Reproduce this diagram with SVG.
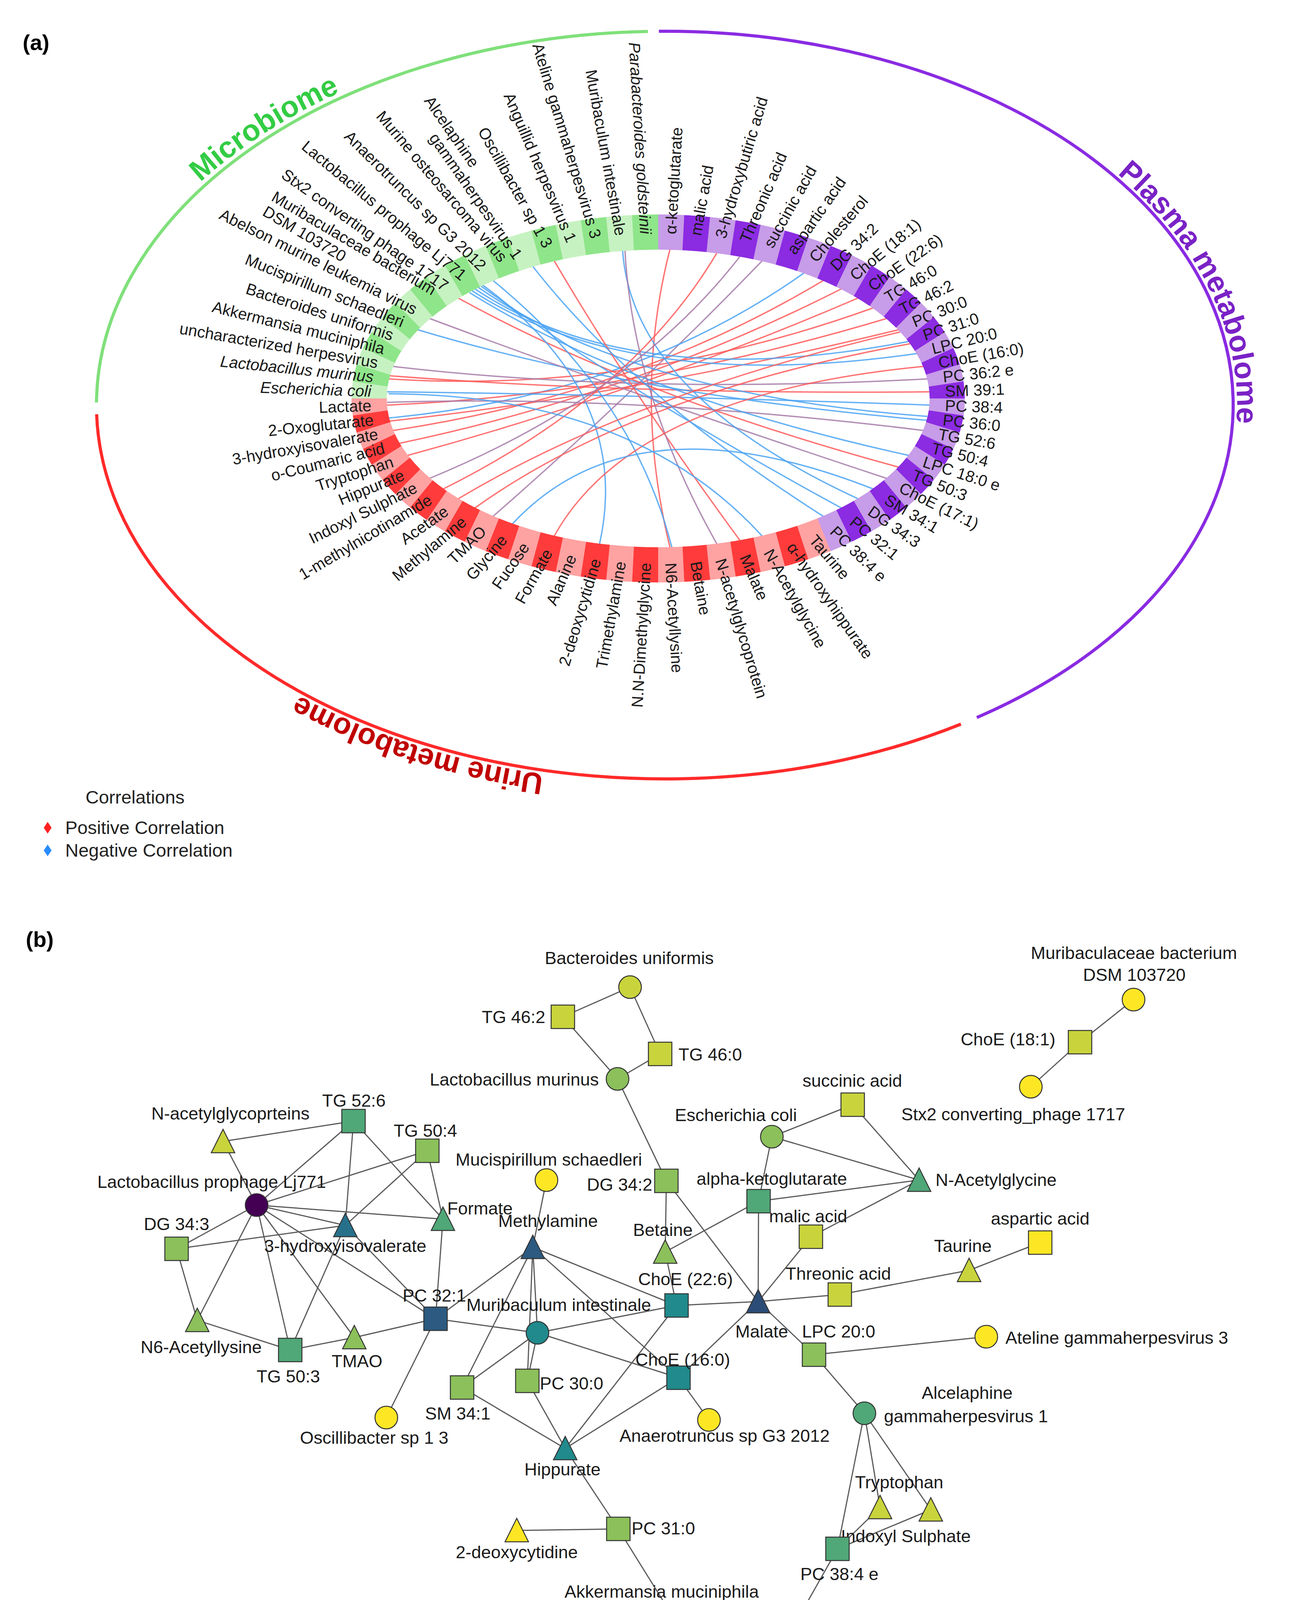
<svg xmlns="http://www.w3.org/2000/svg" width="3300" height="4779" viewBox="0 0 3300 4779">
<defs>
<style>
text{font-family:"Liberation Sans",Arial,sans-serif;}
.lab{font-size:41px;fill:#1a1a1a}
.L{text-anchor:end}
.it{font-style:italic}
.seg{fill:none;stroke-width:90}
.pl{stroke:#c79ce8}.pd{stroke:#8b2be2}
.ul{stroke:#ffa2a2}.ud{stroke:#ff3b3b}
.gl{stroke:#c6f2c1}.gd{stroke:#8fe58a}
.ch{fill:none;stroke-width:3.5;stroke-opacity:.85}
.pos{stroke:#ff5a5a}.neg{stroke:#4aa3f3}.mix{stroke:#a67aa8}
.sec{font-size:76px;font-weight:bold}
.nl{font-size:45px;fill:#1a1a1a}
.m{text-anchor:middle}.e{text-anchor:end}
.ed{stroke:#5a5a5a;stroke-width:3;fill:none}
.n{stroke:#333;stroke-width:2.5}
.y1{fill:#fde725}.y2{fill:#c9d43c}.g3{fill:#8bc05a}.g4{fill:#50a777}
.t5{fill:#208a8c}.t6{fill:#1f6e85}.b6{fill:#26708a}.b7{fill:#2c5a80}.b8{fill:#2b4c76}.pp{fill:#440154}
.lg{font-size:47px;fill:#222}
</style>
<linearGradient id="vir" x1="0" y1="0" x2="1" y2="0">
<stop offset="0" stop-color="#fde725"/>
<stop offset="0.25" stop-color="#5ec962"/>
<stop offset="0.5" stop-color="#21918c"/>
<stop offset="0.75" stop-color="#3b528b"/>
<stop offset="1" stop-color="#440154"/>
</linearGradient>
<path id="tpMicro" d="M484.1,494 A1469,971 0 0 1 1199.6,124.6" fill="none"/>
<path id="tpPlasma" d="M2856.4,441.7 A1465,967 0 0 1 3152.7,1171.6" fill="none"/>
<path id="tpUrine" d="M1422.5,1986.3 A1465,967 0 0 1 666.1,1720.8" fill="none"/>
</defs>
<rect width="3300" height="4779" fill="#fff"/>

<!-- (a) -->
<text x="58" y="128" font-size="56" font-weight="bold">(a)</text>

<g id="outer-arcs" fill="none" stroke-width="8">
<path d="M247,1030.3 A1455,957 0 0 1 1658.8,80.4" stroke="#7fe07a"/>
<path d="M1686.8,80.05 A1455,957 0 0 1 2500.8,1836.9" stroke="#8a2be2"/>
<path d="M2460.1,1853.8 A1455,957 0 0 1 247.4,1060.4" stroke="#ff2a2a"/>
</g>
<g id="section-labels">
<text class="sec" fill="#33cc44"><textPath href="#tpMicro" startOffset="40">Microbiome</textPath></text>
<text class="sec" fill="#7a22c6"><textPath href="#tpPlasma" startOffset="5">Plasma metabolome</textPath></text>
<text class="sec" fill="#c00000"><textPath href="#tpUrine" startOffset="30">Urine metabolome</textPath></text>
</g>

<g id="ring-base" class="seg">
<path class="pl" d="M1685,594A740,426 0 0 1 2109.5,1369"/>
<path class="ul" d="M2109.5,1369A740,426 0 0 1 945,1020"/>
<path class="gl" d="M945,1020A740,426 0 0 1 1685,594"/>
</g>

<g id="chords">
<path class="ch pos" d="M1715,639Q1620,1010 1715,1401"/>
<path class="ch mix" d="M1951,668Q1620,1010 1262,1322"/>
<path class="ch neg" d="M2058,699Q1620,1010 996,1070"/>
<path class="ch pos" d="M2108,718Q1620,1010 1006,1102"/>
<path class="ch pos" d="M2155,739Q1620,1010 1022,1135"/>
<path class="ch pos" d="M2197,763Q1620,1010 1043,1166"/>
<path class="ch pos" d="M2236,788Q1620,1010 996,970"/>
<path class="ch pos" d="M2271,815Q1620,1010 991,1037"/>
<path class="ch pos" d="M2301,844Q1620,1010 998,1078"/>
<path class="ch neg" d="M2327,874Q1620,1010 1215,739"/>
<path class="ch neg" d="M2348,905Q1620,1010 1208,744"/>
<path class="ch mix" d="M2374,970Q1620,1010 1006,938"/>
<path class="ch pos" d="M2379,1003Q1620,1010 998,962"/>
<path class="ch neg" d="M2379,1037Q1620,1010 991,1003"/>
<path class="ch neg" d="M2374,1066Q1620,1010 1222,734"/>
<path class="ch neg" d="M2374,1076Q1620,1010 1069,844"/>
<path class="ch mix" d="M2364,1102Q1620,1010 991,1030"/>
<path class="ch neg" d="M2327,1166Q1620,1010 1202,749"/>
<path class="ch pos" d="M2301,1196Q1620,1010 1173,763"/>
<path class="ch mix" d="M2271,1225Q1620,1010 1099,815"/>
<path class="ch neg" d="M2197,1277Q1620,1010 1594,642"/>
<path class="ch neg" d="M2155,1301Q1620,1010 1228,730"/>
<path class="ch pos" d="M1894,1383Q1620,1010 1419,668"/>
<path class="ch mix" d="M1835,1392Q1620,1010 1600,641"/>
<path class="ch neg" d="M1720,1401Q1620,1010 1262,718"/>
<path class="ch neg" d="M1535,1392Q1620,1010 1232,727"/>
<path class="ch pos" d="M1215,1301Q1620,1010 2330,880"/>
<path class="ch neg" d="M2108,1322Q1620,1010 1364,682"/>
<path class="ch pos" d="M1835,648Q1620,1010 1134,1252"/>
<path class="ch mix" d="M1894,657Q1620,1010 1099,1225"/>
<path class="ch pos" d="M2364,938Q1620,1010 1419,1372"/>
<path class="ch neg" d="M2236,1252Q1620,1010 1312,1341"/>
<path class="ch neg" d="M1951,1372Q1620,1010 995,1008"/>
<path class="ch pos" d="M1173,1277Q1620,1010 2304,850"/>
</g>

<g id="ring">
<g id="s0"><path class="seg pl" d="M1685,594A740,426 0 0 1 1749.5,595.6"/><text class="lab" dy="14" transform="translate(1685 1020) scale(1 .5728) rotate(272.5) translate(735 0) rotate(-272.5) scale(1 1.7458) rotate(-86.6)">α-ketoglutarate</text></g>
<g id="s1"><path class="seg pd" d="M1749.5,595.6A740,426 0 0 1 1813.5,600.5"/><text class="lab" dy="14" transform="translate(1685 1020) scale(1 .5728) rotate(277.5) translate(735 0) rotate(-277.5) scale(1 1.7458) rotate(-79.8)">malic acid</text></g>
<g id="s2"><path class="seg pl" d="M1813.5,600.5A740,426 0 0 1 1876.5,608.5"/><text class="lab" dy="14" transform="translate(1685 1020) scale(1 .5728) rotate(282.5) translate(735 0) rotate(-282.5) scale(1 1.7458) rotate(-73.2)">3-hydroxybutiric acid</text></g>
<g id="s3"><path class="seg pd" d="M1876.5,608.5A740,426 0 0 1 1938.1,619.7"/><text class="lab" dy="14" transform="translate(1685 1020) scale(1 .5728) rotate(287.5) translate(735 0) rotate(-287.5) scale(1 1.7458) rotate(-66.8)">Threonic acid</text></g>
<g id="s4"><path class="seg pl" d="M1938.1,619.7A740,426 0 0 1 1997.7,633.9"/><text class="lab" dy="14" transform="translate(1685 1020) scale(1 .5728) rotate(292.5) translate(735 0) rotate(-292.5) scale(1 1.7458) rotate(-60.8)">succinic acid</text></g>
<g id="s5"><path class="seg pd" d="M1997.7,633.9A740,426 0 0 1 2055,651.1"/><text class="lab" dy="14" transform="translate(1685 1020) scale(1 .5728) rotate(297.5) translate(735 0) rotate(-297.5) scale(1 1.7458) rotate(-55.1)">aspartic acid</text></g>
<g id="s6"><path class="seg pl" d="M2055,651.1A740,426 0 0 1 2109.5,671"/><text class="lab" dy="14" transform="translate(1685 1020) scale(1 .5728) rotate(302.5) translate(735 0) rotate(-302.5) scale(1 1.7458) rotate(-49.7)">Cholesterol</text></g>
<g id="s7"><path class="seg pd" d="M2109.5,671A740,426 0 0 1 2160.7,693.7"/><text class="lab" dy="14" transform="translate(1685 1020) scale(1 .5728) rotate(307.5) translate(735 0) rotate(-307.5) scale(1 1.7458) rotate(-44.6)">DG 34:2</text></g>
<g id="s8"><path class="seg pl" d="M2160.7,693.7A740,426 0 0 1 2208.3,718.8"/><text class="lab" dy="14" transform="translate(1685 1020) scale(1 .5728) rotate(312.5) translate(735 0) rotate(-312.5) scale(1 1.7458) rotate(-39.75)">ChoE (18:1)</text></g>
<g id="s9"><path class="seg pd" d="M2208.3,718.8A740,426 0 0 1 2251.9,746.2"/><text class="lab" dy="14" transform="translate(1685 1020) scale(1 .5728) rotate(317.5) translate(735 0) rotate(-317.5) scale(1 1.7458) rotate(-35.1)">ChoE (22:6)</text></g>
<g id="s10"><path class="seg pl" d="M2251.9,746.2A740,426 0 0 1 2291.2,775.7"/><text class="lab" dy="14" transform="translate(1685 1020) scale(1 .5728) rotate(322.5) translate(735 0) rotate(-322.5) scale(1 1.7458) rotate(-30.6)">TG 46:0</text></g>
<g id="s11"><path class="seg pd" d="M2291.2,775.7A740,426 0 0 1 2325.9,807"/><text class="lab" dy="14" transform="translate(1685 1020) scale(1 .5728) rotate(327.5) translate(735 0) rotate(-327.5) scale(1 1.7458) rotate(-26.3)">TG 46:2</text></g>
<g id="s12"><path class="seg pl" d="M2325.9,807A740,426 0 0 1 2355.7,840"/><text class="lab" dy="14" transform="translate(1685 1020) scale(1 .5728) rotate(332.5) translate(735 0) rotate(-332.5) scale(1 1.7458) rotate(-22.05)">PC 30:0</text></g>
<g id="s13"><path class="seg pd" d="M2355.7,840A740,426 0 0 1 2380.4,874.3"/><text class="lab" dy="14" transform="translate(1685 1020) scale(1 .5728) rotate(337.5) translate(735 0) rotate(-337.5) scale(1 1.7458) rotate(-17.9)">PC 31:0</text></g>
<g id="s14"><path class="seg pl" d="M2380.4,874.3A740,426 0 0 1 2399.8,909.7"/><text class="lab" dy="14" transform="translate(1685 1020) scale(1 .5728) rotate(342.5) translate(735 0) rotate(-342.5) scale(1 1.7458) rotate(-13.9)">LPC 20:0</text></g>
<g id="s15"><path class="seg pd" d="M2399.8,909.7A740,426 0 0 1 2413.8,946"/><text class="lab" dy="14" transform="translate(1685 1020) scale(1 .5728) rotate(347.5) translate(735 0) rotate(-347.5) scale(1 1.7458) rotate(-9.9)">ChoE (16:0)</text></g>
<g id="s16"><path class="seg pl" d="M2413.8,946A740,426 0 0 1 2422.2,982.9"/><text class="lab" dy="14" transform="translate(1685 1020) scale(1 .5728) rotate(352.5) translate(735 0) rotate(-352.5) scale(1 1.7458) rotate(-5.9)">PC 36:2 e</text></g>
<g id="s17"><path class="seg pd" d="M2422.2,982.9A740,426 0 0 1 2425,1020"/><text class="lab" dy="14" transform="translate(1685 1020) scale(1 .5728) rotate(357.5) translate(735 0) rotate(-357.5) scale(1 1.7458) rotate(-2)">SM 39:1</text></g>
<g id="s18"><path class="seg pl" d="M2425,1020A740,426 0 0 1 2422.2,1057.1"/><text class="lab" dy="14" transform="translate(1685 1020) scale(1 .5728) rotate(2.5) translate(735 0) rotate(-2.5) scale(1 1.7458) rotate(2)">PC 38:4</text></g>
<g id="s19"><path class="seg pd" d="M2422.2,1057.1A740,426 0 0 1 2413.8,1094"/><text class="lab" dy="14" transform="translate(1685 1020) scale(1 .5728) rotate(7.5) translate(735 0) rotate(-7.5) scale(1 1.7458) rotate(5.9)">PC 36:0</text></g>
<g id="s20"><path class="seg pl" d="M2413.8,1094A740,426 0 0 1 2399.8,1130.3"/><text class="lab" dy="14" transform="translate(1685 1020) scale(1 .5728) rotate(12.5) translate(735 0) rotate(-12.5) scale(1 1.7458) rotate(9.9)">TG 52:6</text></g>
<g id="s21"><path class="seg pd" d="M2399.8,1130.3A740,426 0 0 1 2380.4,1165.7"/><text class="lab" dy="14" transform="translate(1685 1020) scale(1 .5728) rotate(17.5) translate(735 0) rotate(-17.5) scale(1 1.7458) rotate(13.9)">TG 50:4</text></g>
<g id="s22"><path class="seg pl" d="M2380.4,1165.7A740,426 0 0 1 2355.7,1200"/><text class="lab" dy="14" transform="translate(1685 1020) scale(1 .5728) rotate(22.5) translate(735 0) rotate(-22.5) scale(1 1.7458) rotate(17.9)">LPC 18:0 e</text></g>
<g id="s23"><path class="seg pd" d="M2355.7,1200A740,426 0 0 1 2325.9,1233"/><text class="lab" dy="14" transform="translate(1685 1020) scale(1 .5728) rotate(27.5) translate(735 0) rotate(-27.5) scale(1 1.7458) rotate(22.05)">TG 50:3</text></g>
<g id="s24"><path class="seg pl" d="M2325.9,1233A740,426 0 0 1 2291.2,1264.3"/><text class="lab" dy="14" transform="translate(1685 1020) scale(1 .5728) rotate(32.5) translate(735 0) rotate(-32.5) scale(1 1.7458) rotate(26.3)">ChoE (17:1)</text></g>
<g id="s25"><path class="seg pd" d="M2291.2,1264.3A740,426 0 0 1 2251.9,1293.8"/><text class="lab" dy="14" transform="translate(1685 1020) scale(1 .5728) rotate(37.5) translate(735 0) rotate(-37.5) scale(1 1.7458) rotate(30.6)">SM 34:1</text></g>
<g id="s26"><path class="seg pl" d="M2251.9,1293.8A740,426 0 0 1 2208.3,1321.2"/><text class="lab" dy="14" transform="translate(1685 1020) scale(1 .5728) rotate(42.5) translate(735 0) rotate(-42.5) scale(1 1.7458) rotate(35.1)">DG 34:3</text></g>
<g id="s27"><path class="seg pd" d="M2208.3,1321.2A740,426 0 0 1 2160.7,1346.3"/><text class="lab" dy="14" transform="translate(1685 1020) scale(1 .5728) rotate(47.5) translate(735 0) rotate(-47.5) scale(1 1.7458) rotate(39.75)">PC 32:1</text></g>
<g id="s28"><path class="seg pl" d="M2160.7,1346.3A740,426 0 0 1 2109.5,1369"/><text class="lab" dy="14" transform="translate(1685 1020) scale(1 .5728) rotate(52.5) translate(735 0) rotate(-52.5) scale(1 1.7458) rotate(44.6)">PC 38:4 e</text></g>
<g id="s29"><path class="seg ul" d="M2109.5,1369A740,426 0 0 1 2055,1388.9"/><text class="lab" dy="14" transform="translate(1685 1020) scale(1 .5728) rotate(57.5) translate(735 0) rotate(-57.5) scale(1 1.7458) rotate(49.7)">Taurine</text></g>
<g id="s30"><path class="seg ud" d="M2055,1388.9A740,426 0 0 1 1997.7,1406.1"/><text class="lab" dy="14" transform="translate(1685 1020) scale(1 .5728) rotate(62.5) translate(735 0) rotate(-62.5) scale(1 1.7458) rotate(55.1)">α-hydroxyhippurate</text></g>
<g id="s31"><path class="seg ul" d="M1997.7,1406.1A740,426 0 0 1 1938.1,1420.3"/><text class="lab" dy="14" transform="translate(1685 1020) scale(1 .5728) rotate(67.5) translate(735 0) rotate(-67.5) scale(1 1.7458) rotate(60.8)">N-Acetylglycine</text></g>
<g id="s32"><path class="seg ud" d="M1938.1,1420.3A740,426 0 0 1 1876.5,1431.5"/><text class="lab" dy="14" transform="translate(1685 1020) scale(1 .5728) rotate(72.5) translate(735 0) rotate(-72.5) scale(1 1.7458) rotate(66.8)">Malate</text></g>
<g id="s33"><path class="seg ul" d="M1876.5,1431.5A740,426 0 0 1 1813.5,1439.5"/><text class="lab" dy="14" transform="translate(1685 1020) scale(1 .5728) rotate(77.5) translate(735 0) rotate(-77.5) scale(1 1.7458) rotate(73.2)">N-acetylglycoprotein</text></g>
<g id="s34"><path class="seg ud" d="M1813.5,1439.5A740,426 0 0 1 1749.5,1444.4"/><text class="lab" dy="14" transform="translate(1685 1020) scale(1 .5728) rotate(82.5) translate(735 0) rotate(-82.5) scale(1 1.7458) rotate(79.8)">Betaine</text></g>
<g id="s35"><path class="seg ul" d="M1749.5,1444.4A740,426 0 0 1 1685,1446"/><text class="lab" dy="14" transform="translate(1685 1020) scale(1 .5728) rotate(87.5) translate(735 0) rotate(-87.5) scale(1 1.7458) rotate(86.6)">N6-Acetyllysine</text></g>
<g id="s36"><path class="seg ud" d="M1685,1446A740,426 0 0 1 1620.5,1444.4"/><text class="lab L" dy="14" transform="translate(1685 1020) scale(1 .5728) rotate(92.5) translate(735 0) rotate(-92.5) scale(1 1.7458) rotate(-86.6)">N.N-Dimethylglycine</text></g>
<g id="s37"><path class="seg ul" d="M1620.5,1444.4A740,426 0 0 1 1556.5,1439.5"/><text class="lab L" dy="14" transform="translate(1685 1020) scale(1 .5728) rotate(97.5) translate(735 0) rotate(-97.5) scale(1 1.7458) rotate(-79.8)">Trimethylamine</text></g>
<g id="s38"><path class="seg ud" d="M1556.5,1439.5A740,426 0 0 1 1493.5,1431.5"/><text class="lab L" dy="14" transform="translate(1685 1020) scale(1 .5728) rotate(102.5) translate(735 0) rotate(-102.5) scale(1 1.7458) rotate(-73.2)">2-deoxycytidine</text></g>
<g id="s39"><path class="seg ul" d="M1493.5,1431.5A740,426 0 0 1 1431.9,1420.3"/><text class="lab L" dy="14" transform="translate(1685 1020) scale(1 .5728) rotate(107.5) translate(735 0) rotate(-107.5) scale(1 1.7458) rotate(-66.8)">Alanine</text></g>
<g id="s40"><path class="seg ud" d="M1431.9,1420.3A740,426 0 0 1 1372.3,1406.1"/><text class="lab L" dy="14" transform="translate(1685 1020) scale(1 .5728) rotate(112.5) translate(735 0) rotate(-112.5) scale(1 1.7458) rotate(-60.8)">Formate</text></g>
<g id="s41"><path class="seg ul" d="M1372.3,1406.1A740,426 0 0 1 1315,1388.9"/><text class="lab L" dy="14" transform="translate(1685 1020) scale(1 .5728) rotate(117.5) translate(735 0) rotate(-117.5) scale(1 1.7458) rotate(-55.1)">Fucose</text></g>
<g id="s42"><path class="seg ud" d="M1315,1388.9A740,426 0 0 1 1260.5,1369"/><text class="lab L" dy="14" transform="translate(1685 1020) scale(1 .5728) rotate(122.5) translate(735 0) rotate(-122.5) scale(1 1.7458) rotate(-49.7)">Glycine</text></g>
<g id="s43"><path class="seg ul" d="M1260.5,1369A740,426 0 0 1 1209.3,1346.3"/><text class="lab L" dy="14" transform="translate(1685 1020) scale(1 .5728) rotate(127.5) translate(735 0) rotate(-127.5) scale(1 1.7458) rotate(-44.6)">TMAO</text></g>
<g id="s44"><path class="seg ud" d="M1209.3,1346.3A740,426 0 0 1 1161.7,1321.2"/><text class="lab L" dy="14" transform="translate(1685 1020) scale(1 .5728) rotate(132.5) translate(735 0) rotate(-132.5) scale(1 1.7458) rotate(-39.75)">Methylamine</text></g>
<g id="s45"><path class="seg ul" d="M1161.7,1321.2A740,426 0 0 1 1118.1,1293.8"/><text class="lab L" dy="14" transform="translate(1685 1020) scale(1 .5728) rotate(137.5) translate(735 0) rotate(-137.5) scale(1 1.7458) rotate(-35.1)">Acetate</text></g>
<g id="s46"><path class="seg ud" d="M1118.1,1293.8A740,426 0 0 1 1078.8,1264.3"/><text class="lab L" dy="14" transform="translate(1685 1020) scale(1 .5728) rotate(142.5) translate(735 0) rotate(-142.5) scale(1 1.7458) rotate(-30.6)">1-methylnicotinamide</text></g>
<g id="s47"><path class="seg ul" d="M1078.8,1264.3A740,426 0 0 1 1044.1,1233"/><text class="lab L" dy="14" transform="translate(1685 1020) scale(1 .5728) rotate(147.5) translate(735 0) rotate(-147.5) scale(1 1.7458) rotate(-26.3)">Indoxyl Sulphate</text></g>
<g id="s48"><path class="seg ud" d="M1044.1,1233A740,426 0 0 1 1014.3,1200"/><text class="lab L" dy="14" transform="translate(1685 1020) scale(1 .5728) rotate(152.5) translate(735 0) rotate(-152.5) scale(1 1.7458) rotate(-22.05)">Hippurate</text></g>
<g id="s49"><path class="seg ul" d="M1014.3,1200A740,426 0 0 1 989.6,1165.7"/><text class="lab L" dy="14" transform="translate(1685 1020) scale(1 .5728) rotate(157.5) translate(735 0) rotate(-157.5) scale(1 1.7458) rotate(-17.9)">Tryptophan</text></g>
<g id="s50"><path class="seg ud" d="M989.6,1165.7A740,426 0 0 1 970.2,1130.3"/><text class="lab L" dy="14" transform="translate(1685 1020) scale(1 .5728) rotate(162.5) translate(735 0) rotate(-162.5) scale(1 1.7458) rotate(-13.9)">o-Coumaric acid</text></g>
<g id="s51"><path class="seg ul" d="M970.2,1130.3A740,426 0 0 1 956.2,1094"/><text class="lab L" dy="14" transform="translate(1685 1020) scale(1 .5728) rotate(167.5) translate(735 0) rotate(-167.5) scale(1 1.7458) rotate(-9.9)">3-hydroxyisovalerate</text></g>
<g id="s52"><path class="seg ud" d="M956.2,1094A740,426 0 0 1 947.8,1057.1"/><text class="lab L" dy="14" transform="translate(1685 1020) scale(1 .5728) rotate(172.5) translate(735 0) rotate(-172.5) scale(1 1.7458) rotate(-5.9)">2-Oxoglutarate</text></g>
<g id="s53"><path class="seg ul" d="M947.8,1057.1A740,426 0 0 1 945,1020"/><text class="lab L" dy="14" transform="translate(1685 1020) scale(1 .5728) rotate(177.5) translate(735 0) rotate(-177.5) scale(1 1.7458) rotate(-2)">Lactate</text></g>
<g id="s54"><path class="seg gl" d="M945,1020A740,426 0 0 1 947.8,982.9"/><text class="lab L it" dy="14" transform="translate(1685 1020) scale(1 .5728) rotate(182.5) translate(735 0) rotate(-182.5) scale(1 1.7458) rotate(2)">Escherichia coli</text></g>
<g id="s55"><path class="seg gd" d="M947.8,982.9A740,426 0 0 1 956.2,946"/><text class="lab L it" dy="14" transform="translate(1685 1020) scale(1 .5728) rotate(187.5) translate(735 0) rotate(-187.5) scale(1 1.7458) rotate(5.9)">Lactobacillus murinus</text></g>
<g id="s56"><path class="seg gl" d="M956.2,946A740,426 0 0 1 970.2,909.7"/><text class="lab L" dy="14" transform="translate(1685 1020) scale(1 .5728) rotate(192.5) translate(735 0) rotate(-192.5) scale(1 1.7458) rotate(9.9)">uncharacterized herpesvirus</text></g>
<g id="s57"><path class="seg gd" d="M970.2,909.7A740,426 0 0 1 989.6,874.3"/><text class="lab L" dy="14" transform="translate(1685 1020) scale(1 .5728) rotate(197.5) translate(735 0) rotate(-197.5) scale(1 1.7458) rotate(13.9)">Akkermansia muciniphila</text></g>
<g id="s58"><path class="seg gl" d="M989.6,874.3A740,426 0 0 1 1014.3,840"/><text class="lab L" dy="14" transform="translate(1685 1020) scale(1 .5728) rotate(202.5) translate(735 0) rotate(-202.5) scale(1 1.7458) rotate(17.9)">Bacteroides uniformis</text></g>
<g id="s59"><path class="seg gd" d="M1014.3,840A740,426 0 0 1 1044.1,807"/><text class="lab L" dy="14" transform="translate(1685 1020) scale(1 .5728) rotate(207.5) translate(735 0) rotate(-207.5) scale(1 1.7458) rotate(22.05)">Mucispirillum schaedleri</text></g>
<g id="s60"><path class="seg gl" d="M1044.1,807A740,426 0 0 1 1078.8,775.7"/><text class="lab L" dy="14" transform="translate(1685 1020) scale(1 .5728) rotate(212.5) translate(735 0) rotate(-212.5) scale(1 1.7458) rotate(26.3)">Abelson murine leukemia virus</text></g>
<g id="s61"><path class="seg gd" d="M1078.8,775.7A740,426 0 0 1 1118.1,746.2"/><text class="lab L" y="-22" dy="14" transform="translate(1685 1020) scale(1 .5728) rotate(217.5) translate(735 0) rotate(-217.5) scale(1 1.7458) rotate(30.6)">Muribaculaceae bacterium</text><text class="lab" x="-481" y="22" dy="14" transform="translate(1685 1020) scale(1 .5728) rotate(217.5) translate(735 0) rotate(-217.5) scale(1 1.7458) rotate(30.6)">DSM 103720</text></g>
<g id="s62"><path class="seg gl" d="M1118.1,746.2A740,426 0 0 1 1161.7,718.8"/><text class="lab L" dy="14" transform="translate(1685 1020) scale(1 .5728) rotate(222.5) translate(735 0) rotate(-222.5) scale(1 1.7458) rotate(35.1)">Stx2 converting phage 1717</text></g>
<g id="s63"><path class="seg gd" d="M1161.7,718.8A740,426 0 0 1 1209.3,693.7"/><text class="lab L" dy="14" transform="translate(1685 1020) scale(1 .5728) rotate(227.5) translate(735 0) rotate(-227.5) scale(1 1.7458) rotate(39.75)">Lactobacillus prophage Lj771</text></g>
<g id="s64"><path class="seg gl" d="M1209.3,693.7A740,426 0 0 1 1260.5,671"/><text class="lab L" dy="14" transform="translate(1685 1020) scale(1 .5728) rotate(232.5) translate(735 0) rotate(-232.5) scale(1 1.7458) rotate(44.6)">Anaerotruncus sp G3 2012</text></g>
<g id="s65"><path class="seg gd" d="M1260.5,671A740,426 0 0 1 1315,651.1"/><text class="lab L" dy="14" transform="translate(1685 1020) scale(1 .5728) rotate(237.5) translate(735 0) rotate(-237.5) scale(1 1.7458) rotate(49.7)">Murine osteosarcoma virus</text></g>
<g id="s66"><path class="seg gl" d="M1315,651.1A740,426 0 0 1 1372.3,633.9"/><text class="lab" x="-468" y="-22" dy="14" transform="translate(1685 1020) scale(1 .5728) rotate(242.5) translate(735 0) rotate(-242.5) scale(1 1.7458) rotate(55.1)">Alcelaphine</text><text class="lab L" y="22" dy="14" transform="translate(1685 1020) scale(1 .5728) rotate(242.5) translate(735 0) rotate(-242.5) scale(1 1.7458) rotate(55.1)">gammaherpesvirus 1</text></g>
<g id="s67"><path class="seg gd" d="M1372.3,633.9A740,426 0 0 1 1431.9,619.7"/><text class="lab L" dy="14" transform="translate(1685 1020) scale(1 .5728) rotate(247.5) translate(735 0) rotate(-247.5) scale(1 1.7458) rotate(60.8)">Oscillibacter sp 1 3</text></g>
<g id="s68"><path class="seg gl" d="M1431.9,619.7A740,426 0 0 1 1493.5,608.5"/><text class="lab L" dy="14" transform="translate(1685 1020) scale(1 .5728) rotate(252.5) translate(735 0) rotate(-252.5) scale(1 1.7458) rotate(66.8)">Anguillid herpesvirus 1</text></g>
<g id="s69"><path class="seg gd" d="M1493.5,608.5A740,426 0 0 1 1556.5,600.5"/><text class="lab L" dy="14" transform="translate(1685 1020) scale(1 .5728) rotate(257.5) translate(735 0) rotate(-257.5) scale(1 1.7458) rotate(73.2)">Ateline gammaherpesvirus 3</text></g>
<g id="s70"><path class="seg gl" d="M1556.5,600.5A740,426 0 0 1 1620.5,595.6"/><text class="lab L" dy="14" transform="translate(1685 1020) scale(1 .5728) rotate(262.5) translate(735 0) rotate(-262.5) scale(1 1.7458) rotate(79.8)">Muribaculum intestinale</text></g>
<g id="s71"><path class="seg gd" d="M1620.5,595.6A740,426 0 0 1 1685,594"/><text class="lab L it" dy="14" transform="translate(1685 1020) scale(1 .5728) rotate(267.5) translate(735 0) rotate(-267.5) scale(1 1.7458) rotate(86.6)">Parabacteroides goldsteinii</text></g>
</g>

<g id="legend-a">
<text class="lg" x="219" y="2057">Correlations</text>
<polygon points="122,2104 132,2119 122,2134 112,2119" fill="#ff2020"/>
<text class="lg" x="167" y="2135">Positive Correlation</text>
<polygon points="122,2162 132,2177 122,2192 112,2177" fill="#2a8cff"/>
<text class="lg" x="167" y="2193">Negative Correlation</text>
</g>

<!-- (b) -->
<text x="66" y="2424" font-size="56" font-weight="bold">(b)</text>

<g id="edges" class="ed">
<line x1="1613" y1="2527" x2="1441" y2="2603"/>
<line x1="1613" y1="2527" x2="1690" y2="2698"/>
<line x1="1441" y1="2603" x2="1581" y2="2762"/>
<line x1="1690" y1="2698" x2="1581" y2="2762"/>
<line x1="1581" y1="2762" x2="1706" y2="3023"/>
<line x1="1706" y1="3023" x2="1703" y2="3205"/>
<line x1="1706" y1="3023" x2="1941" y2="3332"/>
<line x1="1703" y1="3205" x2="1942" y2="3075"/>
<line x1="1703" y1="3205" x2="1732" y2="3342"/>
<line x1="1976" y1="2910" x2="2183" y2="2828"/>
<line x1="1976" y1="2910" x2="2353" y2="3021"/>
<line x1="1976" y1="2910" x2="1942" y2="3075"/>
<line x1="2183" y1="2828" x2="2353" y2="3021"/>
<line x1="1942" y1="3075" x2="2353" y2="3021"/>
<line x1="2076" y1="3166" x2="2353" y2="3021"/>
<line x1="1942" y1="3075" x2="1941" y2="3332"/>
<line x1="2076" y1="3166" x2="1941" y2="3332"/>
<line x1="1941" y1="3332" x2="2150" y2="3314"/>
<line x1="2150" y1="3314" x2="2481" y2="3252"/>
<line x1="2481" y1="3252" x2="2663" y2="3181"/>
<line x1="1732" y1="3342" x2="1941" y2="3332"/>
<line x1="1941" y1="3332" x2="1737" y2="3527"/>
<line x1="1941" y1="3332" x2="2084" y2="3468"/>
<line x1="2084" y1="3468" x2="2525" y2="3422"/>
<line x1="2084" y1="3468" x2="2213" y2="3618"/>
<line x1="2213" y1="3618" x2="2253" y2="3859"/>
<line x1="2213" y1="3618" x2="2383" y2="3865"/>
<line x1="2213" y1="3618" x2="2144" y2="3965"/>
<line x1="2253" y1="3859" x2="2144" y2="3965"/>
<line x1="2383" y1="3865" x2="2144" y2="3965"/>
<line x1="2144" y1="3965" x2="2032" y2="4163"/>
<line x1="2032" y1="4163" x2="1876" y2="4332"/>
<line x1="2032" y1="4163" x2="2084" y2="4336"/>
<line x1="1876" y1="4332" x2="2084" y2="4336"/>
<line x1="1876" y1="4332" x2="1718" y2="4131"/>
<line x1="1876" y1="4332" x2="1697" y2="4459"/>
<line x1="1876" y1="4332" x2="1843" y2="4565"/>
<line x1="1876" y1="4332" x2="2018" y2="4512"/>
<line x1="1697" y1="4459" x2="1685" y2="4653"/>
<line x1="1685" y1="4653" x2="1843" y2="4565"/>
<line x1="1718" y1="4131" x2="1583" y2="3914"/>
<line x1="1583" y1="3914" x2="1323" y2="3918"/>
<line x1="1583" y1="3914" x2="1447" y2="3708"/>
<line x1="1447" y1="3708" x2="1183" y2="3552"/>
<line x1="1447" y1="3708" x2="1350" y2="3535"/>
<line x1="1447" y1="3708" x2="1732" y2="3342"/>
<line x1="1447" y1="3708" x2="1737" y2="3527"/>
<line x1="1364" y1="3193" x2="1183" y2="3552"/>
<line x1="1364" y1="3193" x2="1350" y2="3535"/>
<line x1="1364" y1="3193" x2="1376" y2="3412"/>
<line x1="1364" y1="3193" x2="1732" y2="3342"/>
<line x1="1364" y1="3193" x2="1737" y2="3527"/>
<line x1="1364" y1="3193" x2="1115" y2="3376"/>
<line x1="1399" y1="3021" x2="1364" y2="3193"/>
<line x1="1376" y1="3412" x2="1115" y2="3376"/>
<line x1="1376" y1="3412" x2="1732" y2="3342"/>
<line x1="1376" y1="3412" x2="1737" y2="3527"/>
<line x1="1376" y1="3412" x2="1183" y2="3552"/>
<line x1="1376" y1="3412" x2="1350" y2="3535"/>
<line x1="1737" y1="3527" x2="1815" y2="3635"/>
<line x1="1115" y1="3376" x2="657" y2="3085"/>
<line x1="1115" y1="3376" x2="884" y2="3137"/>
<line x1="1115" y1="3376" x2="1134" y2="3121"/>
<line x1="1115" y1="3376" x2="907" y2="3424"/>
<line x1="1115" y1="3376" x2="989" y2="3629"/>
<line x1="657" y1="3085" x2="571" y2="2922"/>
<line x1="657" y1="3085" x2="905" y2="2870"/>
<line x1="657" y1="3085" x2="1094" y2="2946"/>
<line x1="657" y1="3085" x2="1134" y2="3121"/>
<line x1="657" y1="3085" x2="884" y2="3137"/>
<line x1="657" y1="3085" x2="452" y2="3197"/>
<line x1="657" y1="3085" x2="505" y2="3380"/>
<line x1="657" y1="3085" x2="743" y2="3456"/>
<line x1="657" y1="3085" x2="907" y2="3424"/>
<line x1="905" y1="2870" x2="571" y2="2922"/>
<line x1="905" y1="2870" x2="884" y2="3137"/>
<line x1="905" y1="2870" x2="1134" y2="3121"/>
<line x1="1094" y1="2946" x2="884" y2="3137"/>
<line x1="1094" y1="2946" x2="1134" y2="3121"/>
<line x1="452" y1="3197" x2="884" y2="3137"/>
<line x1="452" y1="3197" x2="505" y2="3380"/>
<line x1="505" y1="3380" x2="743" y2="3456"/>
<line x1="743" y1="3456" x2="884" y2="3137"/>
<line x1="743" y1="3456" x2="907" y2="3424"/>
<line x1="2902" y1="2559" x2="2765" y2="2668"/>
<line x1="2765" y1="2668" x2="2639" y2="2782"/>
</g>

<g id="nodes">
<g id="n-bacteroides"><circle class="n y2" cx="1613" cy="2527" r="29"/><text class="nl m" x="1611" y="2468">Bacteroides uniformis</text></g>
<g id="n-tg462"><rect class="n y2" x="1411" y="2573" width="60" height="60"/><text class="nl e" x="1396" y="2619">TG 46:2</text></g>
<g id="n-tg460"><rect class="n y2" x="1660" y="2668" width="60" height="60"/><text class="nl" x="1737" y="2715">TG 46:0</text></g>
<g id="n-lmurinus"><circle class="n g3" cx="1581" cy="2762" r="29"/><text class="nl e" x="1533" y="2779">Lactobacillus murinus</text></g>
<g id="n-tg526"><rect class="n g4" x="875" y="2840" width="60" height="60"/><text class="nl m" x="906" y="2833">TG 52:6</text></g>
<g id="n-nacgp"><polygon class="n y2" points="571,2891 601,2951 541,2951"/><text class="nl m" x="590" y="2866">N-acetylglycoprteins</text></g>
<g id="n-tg504"><rect class="n g3" x="1064" y="2916" width="60" height="60"/><text class="nl m" x="1089" y="2910">TG 50:4</text></g>
<g id="n-mucisp"><circle class="n y1" cx="1399" cy="3021" r="29"/><text class="nl m" x="1405" y="2984">Mucispirillum schaedleri</text></g>
<g id="n-lj771"><circle class="n pp" cx="657" cy="3085" r="29"/><text class="nl m" x="542" y="3041">Lactobacillus prophage Lj771</text></g>
<g id="n-dg343"><rect class="n g3" x="422" y="3167" width="60" height="60"/><text class="nl m" x="452" y="3149">DG 34:3</text></g>
<g id="n-hiv3"><polygon class="n b6" points="884,3106 914,3166 854,3166"/><text class="nl m" x="884" y="3205">3-hydroxyisovalerate</text></g>
<g id="n-formate"><polygon class="n g4" points="1134,3090 1164,3150 1104,3150"/><text class="nl" x="1145" y="3109">Formate</text></g>
<g id="n-methylamine"><polygon class="n b7" points="1364,3162 1394,3222 1334,3222"/><text class="nl m" x="1403" y="3141">Methylamine</text></g>
<g id="n-pc321"><rect class="n b7" x="1085" y="3346" width="60" height="60"/><text class="nl m" x="1112" y="3332">PC 32:1</text></g>
<g id="n-murint"><circle class="n t5" cx="1376" cy="3412" r="29"/><text class="nl" x="1194" y="3356">Muribaculum intestinale</text></g>
<g id="n-n6"><polygon class="n g3" points="505,3349 535,3409 475,3409"/><text class="nl m" x="515" y="3464">N6-Acetyllysine</text></g>
<g id="n-tg503"><rect class="n g4" x="713" y="3426" width="60" height="60"/><text class="nl m" x="738" y="3539">TG 50:3</text></g>
<g id="n-tmao"><polygon class="n g3" points="907,3393 937,3453 877,3453"/><text class="nl m" x="914" y="3500">TMAO</text></g>
<g id="n-sm341"><rect class="n g3" x="1153" y="3522" width="60" height="60"/><text class="nl m" x="1172" y="3634">SM 34:1</text></g>
<g id="n-pc300"><rect class="n g3" x="1320" y="3505" width="60" height="60"/><text class="nl" x="1382" y="3557">PC 30:0</text></g>
<g id="n-oscill"><circle class="n y1" cx="989" cy="3629" r="29"/><text class="nl m" x="958" y="3696">Oscillibacter sp 1 3</text></g>
<g id="n-hippurate"><polygon class="n t5" points="1447,3677 1477,3737 1417,3737"/><text class="nl m" x="1440" y="3777">Hippurate</text></g>
<g id="n-pc310"><rect class="n g3" x="1553" y="3884" width="60" height="60"/><text class="nl" x="1617" y="3928">PC 31:0</text></g>
<g id="n-deoxy"><polygon class="n y1" points="1323,3887 1353,3947 1293,3947"/><text class="nl m" x="1323" y="3989">2-deoxycytidine</text></g>
<g id="n-akk"><circle class="n y2" cx="1718" cy="4131" r="29"/><text class="nl m" x="1694" y="4090">Akkermansia muciniphila</text></g>
<g id="n-anguillid"><circle class="n y2" cx="1697" cy="4459" r="29"/><text class="nl e" x="1645" y="4471">Anguillid herpesvirus 1</text></g>
<g id="n-pc384"><rect class="n y2" x="1655" y="4623" width="60" height="60"/><text class="nl m" x="1680" y="4732">PC 38:4</text></g>
<g id="n-anaero"><circle class="n y1" cx="1815" cy="3635" r="29"/><text class="nl m" x="1855" y="3691">Anaerotruncus sp G3 2012</text></g>
<g id="n-alcel"><circle class="n g4" cx="2213" cy="3618" r="29"/><text class="nl m" x="2476" y="3581">Alcelaphine</text><text class="nl m" x="2473" y="3641">gammaherpesvirus 1</text></g>
<g id="n-tryp"><polygon class="n y2" points="2253,3828 2283,3888 2223,3888"/><text class="nl m" x="2302" y="3810">Tryptophan</text></g>
<g id="n-indoxyl"><polygon class="n y2" points="2383,3834 2413,3894 2353,3894"/><text class="nl m" x="2319" y="3948">Indoxyl Sulphate</text></g>
<g id="n-pc384e"><rect class="n g4" x="2114" y="3935" width="60" height="60"/><text class="nl m" x="2149" y="4045">PC 38:4 e</text></g>
<g id="n-abelson"><circle class="n g3" cx="2032" cy="4163" r="29"/><text class="nl" x="2074" y="4173">Abelson murine leukemia</text><text class="nl m" x="2334" y="4232">virus</text></g>
<g id="n-pc360"><rect class="n t6" x="1846" y="4302" width="60" height="60"/><text class="nl e" x="1839" y="4341">PC 36:0</text></g>
<g id="n-alanine"><polygon class="n y2" points="2084,4305 2114,4365 2054,4365"/><text class="nl m" x="2127" y="4426">Alanine</text></g>
<g id="n-lactate"><polygon class="n y1" points="2018,4481 2048,4541 1988,4541"/><text class="nl" x="2055" y="4534">Lactate</text></g>
<g id="n-glycine"><polygon class="n y2" points="1843,4534 1873,4594 1813,4594"/><text class="nl m" x="1852" y="4636">Glycine</text></g>
<g id="n-muribact"><circle class="n y1" cx="2902" cy="2559" r="29"/><text class="nl m" x="2903" y="2455">Muribaculaceae bacterium</text><text class="nl m" x="2904" y="2511">DSM 103720</text></g>
<g id="n-choe181"><rect class="n y2" x="2735" y="2638" width="60" height="60"/><text class="nl e" x="2702" y="2676">ChoE (18:1)</text></g>
<g id="n-stx2"><circle class="n y1" cx="2639" cy="2782" r="29"/><text class="nl m" x="2594" y="2868">Stx2 converting_phage 1717</text></g>
<g id="n-succinic"><rect class="n y2" x="2153" y="2798" width="60" height="60"/><text class="nl m" x="2182" y="2782">succinic acid</text></g>
<g id="n-ecoli"><circle class="n g3" cx="1976" cy="2910" r="29"/><text class="nl m" x="1884" y="2870">Escherichia coli</text></g>
<g id="n-nacgly"><polygon class="n g4" points="2353,2990 2383,3050 2323,3050"/><text class="nl" x="2395" y="3036">N-Acetylglycine</text></g>
<g id="n-dg342"><rect class="n g3" x="1676" y="2993" width="60" height="60"/><text class="nl e" x="1670" y="3048">DG 34:2</text></g>
<g id="n-akg"><rect class="n g4" x="1912" y="3045" width="60" height="60"/><text class="nl m" x="1976" y="3033">alpha-ketoglutarate</text></g>
<g id="n-betaine"><polygon class="n g3" points="1703,3174 1733,3234 1673,3234"/><text class="nl m" x="1697" y="3164">Betaine</text></g>
<g id="n-malic"><rect class="n y2" x="2046" y="3136" width="60" height="60"/><text class="nl m" x="2069" y="3129">malic acid</text></g>
<g id="n-aspartic"><rect class="n y1" x="2633" y="3151" width="60" height="60"/><text class="nl m" x="2663" y="3135">aspartic acid</text></g>
<g id="n-taurine"><polygon class="n y2" points="2481,3221 2511,3281 2451,3281"/><text class="nl m" x="2465" y="3205">Taurine</text></g>
<g id="n-threonic"><rect class="n y2" x="2120" y="3284" width="60" height="60"/><text class="nl m" x="2146" y="3276">Threonic acid</text></g>
<g id="n-choe226"><rect class="n t5" x="1702" y="3312" width="60" height="60"/><text class="nl m" x="1755" y="3290">ChoE (22:6)</text></g>
<g id="n-malate"><polygon class="n b8" points="1941,3301 1971,3361 1911,3361"/><text class="nl m" x="1950" y="3424">Malate</text></g>
<g id="n-lpc200"><rect class="n g3" x="2054" y="3438" width="60" height="60"/><text class="nl m" x="2147" y="3424">LPC 20:0</text></g>
<g id="n-ateline"><circle class="n y1" cx="2525" cy="3422" r="29"/><text class="nl" x="2574" y="3440">Ateline gammaherpesvirus 3</text></g>
<g id="n-choe160"><rect class="n t5" x="1707" y="3497" width="60" height="60"/><text class="nl m" x="1748" y="3496">ChoE (16:0)</text></g>
</g>

<g id="degree-legend">
<text x="3000" y="4612" font-size="34" fill="#333">Degree</text>
<rect x="2981" y="4630" width="270" height="79" fill="url(#vir)"/>
<text x="3009" y="4752" font-size="46" fill="#222" text-anchor="middle">-</text>
<text x="3233" y="4752" font-size="46" fill="#222" text-anchor="middle">+</text>
</g>
</svg>
